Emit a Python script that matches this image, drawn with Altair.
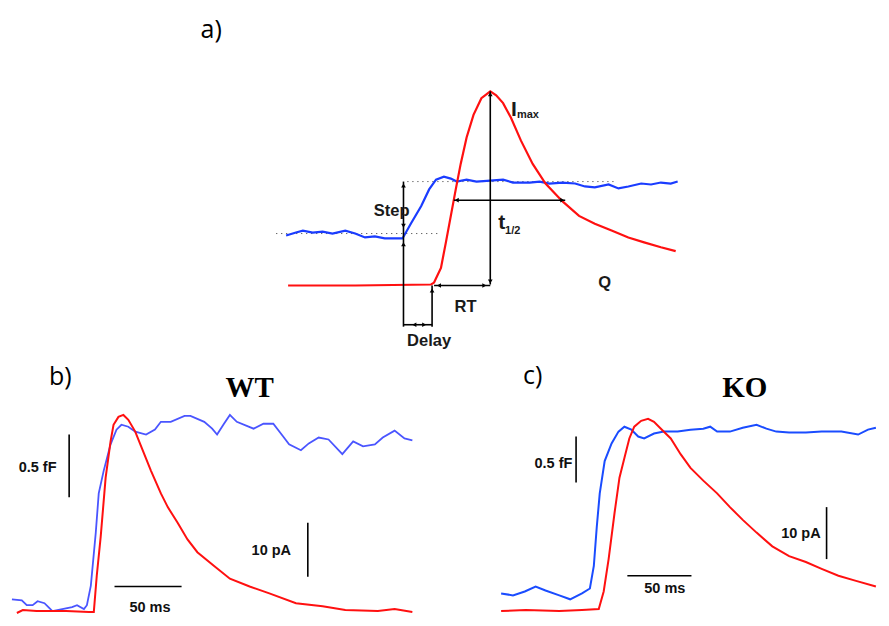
import altair as alt
import pandas as pd

# ---- panel a: schematic traces (figure coordinates, y grows downward) ----
a_blue_x = [290, 300, 307, 317, 327, 337, 350, 360, 370, 380, 390, 400, 408, 417, 427, 435, 442, 450, 457, 463, 473, 483, 497, 510, 520, 537, 547, 557, 570, 583, 593, 603, 617, 627, 637, 650, 660, 670, 680, 687]
a_blue_y = [240, 237, 235, 237, 236, 238, 235, 238, 242, 241, 243, 243, 243, 227, 210, 193, 183, 180, 182, 185, 183, 185, 184, 183, 186, 186, 185, 187, 186, 187, 190, 191, 188, 192, 190, 187, 188, 186, 187, 185]
a_red_x = [292, 360, 437, 440, 447, 452, 457, 462, 467, 473, 480, 488, 497, 503, 510, 518, 528, 540, 553, 570, 587, 603, 620, 637, 653, 670, 685]
a_red_y = [291, 291, 290, 288, 273, 247, 220, 193, 167, 140, 117, 100, 93, 97, 105, 120, 143, 167, 187, 205, 220, 228, 235, 242, 247, 252, 256]

# ---- panel b: WT ----
b_blue_x = [12, 22, 27, 33, 38, 45, 50, 53, 63, 73, 78, 85, 88, 92, 97, 100, 105, 112, 118, 123, 130, 137, 148, 157, 163, 173, 187, 193, 207, 215, 220, 227, 233, 240, 257, 267, 277, 287, 293, 305, 313, 323, 333, 347, 358, 368, 380, 388, 400, 410, 418]
b_blue_y = [611, 612, 617, 617, 613, 615, 620, 623, 621, 619, 617, 621, 617, 597, 543, 503, 480, 453, 438, 433, 435, 440, 443, 438, 430, 430, 424, 424, 430, 437, 443, 432, 423, 430, 437, 432, 432, 445, 453, 459, 452, 446, 448, 463, 450, 455, 453, 446, 439, 447, 449]
b_red_x = [17, 23, 37, 67, 90, 95, 98, 102, 107, 112, 115, 120, 125, 130, 137, 143, 153, 163, 170, 180, 190, 200, 217, 233, 253, 273, 300, 327, 350, 383, 400, 418]
b_red_y = [625, 622, 623, 623, 624, 624, 587, 547, 487, 450, 433, 425, 423, 428, 440, 455, 480, 503, 517, 533, 550, 563, 577, 590, 598, 605, 615, 618, 622, 623, 621, 624]

# ---- panel c: KO ----
c_blue_x = [508, 520, 532, 543, 553, 567, 578, 590, 598, 602, 605, 608, 613, 620, 627, 633, 640, 647, 653, 663, 673, 687, 700, 713, 720, 727, 740, 753, 767, 777, 787, 800, 817, 833, 853, 870, 880, 888]
c_blue_y = [605, 607, 603, 598, 602, 607, 611, 605, 600, 577, 537, 503, 470, 452, 440, 435, 438, 445, 447, 442, 440, 440, 438, 437, 435, 440, 440, 436, 433, 437, 440, 441, 441, 440, 440, 443, 438, 436]
c_red_x = [508, 533, 567, 590, 607, 612, 617, 623, 628, 633, 638, 643, 650, 657, 663, 670, 680, 690, 700, 713, 727, 740, 753, 767, 783, 800, 817, 833, 850, 867, 888]
c_red_y = [623, 622, 623, 622, 621, 603, 570, 523, 487, 467, 447, 435, 429, 427, 430, 437, 447, 463, 477, 490, 503, 517, 530, 543, 557, 567, 573, 580, 587, 592, 598]

# ---- annotation segments (x1, y1, x2, y2) ----
seg_x1 = [497, 460, 409, 438, 409, 440, 70, 312, 116, 584, 838, 636]
seg_y1 = [93, 204, 185, 291, 331, 291, 443, 533, 598, 445, 517, 587]
seg_x2 = [497, 573, 409, 438, 438, 497, 70, 312, 184, 584, 838, 701]
seg_y2 = [290, 204, 333, 333, 331, 291, 507, 588, 598, 492, 570, 587]

dot_x1 = [413, 280]
dot_y1 = [185, 238]
dot_x2 = [623, 447]
dot_y2 = [185, 238]

head_x = [497, 497, 463, 570, 409, 409, 409, 420, 430, 445, 491, 438]
head_y = [96, 287, 204, 204, 189, 230, 249, 331, 331, 291, 291, 296]
head_shape = ["triangle-up", "triangle-down", "triangle-left", "triangle-right", "triangle-up", "triangle-down", "triangle-up", "triangle-left", "triangle-right", "triangle-left", "triangle-right", "triangle-up"]

# schematic labels (panel a)
sch_text = ["Step", "RT", "Delay", "Q"]
sch_x = [397, 472, 435, 613]
sch_y = [220, 318, 353, 294]

# scale-bar labels (panels b, c)
bar_text = ["0.5 fF", "10 pA", "50 ms", "0.5 fF", "10 pA", "50 ms"]
bar_x = [38, 275, 152, 561, 812, 674]
bar_y = [481, 566, 624, 477, 548, 605]

XS = alt.Scale(domain=[8, 880], nice=False, zero=False)
YS = alt.Scale(domain=[8, 626], nice=False, zero=False, reverse=True)


def xe(f="x"):
    return alt.X(f + ":Q", scale=XS, axis=None)


def ye(f="y"):
    return alt.Y(f + ":Q", scale=YS, axis=None)


def trace(xs, ys, color, w):
    df = pd.DataFrame({"x": xs, "y": ys, "i": range(len(xs))})
    return alt.Chart(df).mark_line(color=color, strokeWidth=w, interpolate="linear").encode(
        x=xe(), y=ye(), order="i:Q")


def texts(t, xs, ys, **kw):
    df = pd.DataFrame({"t": t, "x": xs, "y": ys})
    return alt.Chart(df).mark_text(**kw).encode(x=xe(), y=ye(), text="t:N")


segs = pd.DataFrame({"x": seg_x1, "y": seg_y1, "x2": seg_x2, "y2": seg_y2})
rules = alt.Chart(segs).mark_rule(color="black", strokeWidth=1.6).encode(
    x=xe(), y=ye(), x2="x2:Q", y2="y2:Q")

dots = pd.DataFrame({"x": dot_x1, "y": dot_y1, "x2": dot_x2, "y2": dot_y2})
dotted = alt.Chart(dots).mark_rule(color="#333333", strokeWidth=1, strokeDash=[1, 4]).encode(
    x=xe(), y=ye(), x2="x2:Q", y2="y2:Q")

heads = pd.DataFrame({"x": head_x, "y": head_y, "s": head_shape})
arrowheads = alt.Chart(heads).mark_point(filled=True, color="black", size=22, opacity=1).encode(
    x=xe(), y=ye(), shape=alt.Shape("s:N", scale=None))

sch_labels = texts(sch_text, sch_x, sch_y, font="Liberation Sans", fontWeight="bold", fontSize=16.5,
                   color="#1a1a1a", align="center", baseline="alphabetic")
bar_labels = texts(bar_text, bar_x, bar_y, font="Liberation Sans", fontWeight="bold", fontSize=14.5,
                   color="#111111", align="center", baseline="alphabetic")

big_sym = texts(["I", "t"], [518, 505], [118, 233], font="Liberation Sans", fontWeight="bold",
                fontSize=21, color="#1a1a1a", align="left", baseline="alphabetic")
small_sym = texts(["max", "1/2"], [524, 512], [120, 238], font="Liberation Sans", fontWeight="bold",
                  fontSize=11, color="#1a1a1a", align="left", baseline="alphabetic")

panel_labels = texts(["a)", "b)", "c)"], [214, 61, 540], [30, 384, 383], font="Open Sans",
                     fontSize=25, color="black", align="center", baseline="middle")
titles = texts(["WT", "KO"], [253, 755], [396, 396], font="Liberation Serif", fontWeight="bold",
               fontSize=29, color="black", align="center", baseline="middle")

chart = alt.layer(
    dotted,
    trace(a_blue_x, a_blue_y, "#1a3cff", 2.2),
    trace(a_red_x, a_red_y, "#ff1010", 2.2),
    trace(b_blue_x, b_blue_y, "#4a55ff", 1.8),
    trace(b_red_x, b_red_y, "#ff1010", 2.0),
    trace(c_blue_x, c_blue_y, "#1a4cff", 2.0),
    trace(c_red_x, c_red_y, "#ff1010", 2.0),
    rules, arrowheads, sch_labels, bar_labels, big_sym, small_sym, panel_labels, titles,
).properties(
    width=873, height=610, padding=0,
    autosize=alt.AutoSizeParams(type="fit", contains="padding"),
    background="white",
).configure_view(stroke=None)

chart.save("out.html", embed_options={"renderer": "svg", "actions": False})
